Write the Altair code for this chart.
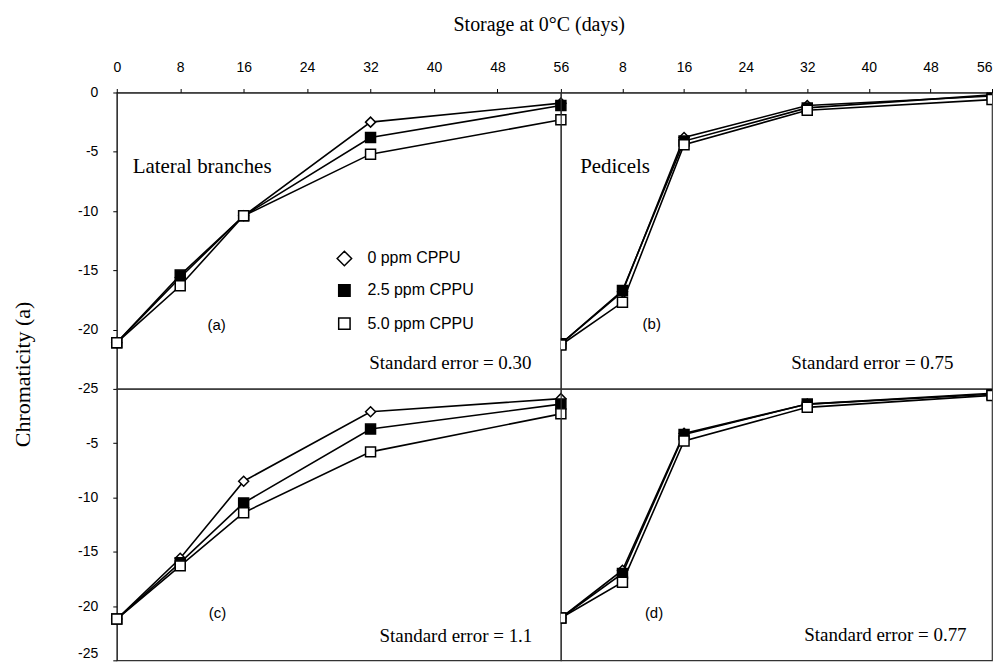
import altair as alt
import pandas as pd

# ---------------- data ----------------
days = [0, 8, 16, 32, 56]
treatments = ["0 ppm CPPU", "2.5 ppm CPPU", "5.0 ppm CPPU"]

# (a) Lateral branches, first series
lat_a_0ppm = [-21.1, -15.6, -10.4, -2.5, -0.9]
lat_a_25ppm = [-21.1, -15.4, -10.4, -3.8, -1.1]
lat_a_50ppm = [-21.1, -16.3, -10.4, -5.2, -2.3]

# (b) Pedicels, first series
ped_b_0ppm = [-21.2, -16.8, -3.8, -1.1, -0.3]
ped_b_25ppm = [-21.2, -16.7, -4.1, -1.3, -0.2]
ped_b_50ppm = [-21.3, -17.7, -4.4, -1.5, -0.6]

# (c) Lateral branches, second series
lat_c_0ppm = [-21.2, -15.6, -8.5, -2.1, -0.9]
lat_c_25ppm = [-21.2, -16.0, -10.5, -3.7, -1.4]
lat_c_50ppm = [-21.2, -16.3, -11.4, -5.8, -2.3]

# (d) Pedicels, second series
ped_d_0ppm = [-21.1, -16.7, -4.1, -1.4, -0.4]
ped_d_25ppm = [-21.1, -17.0, -4.2, -1.4, -0.5]
ped_d_50ppm = [-21.1, -17.8, -4.8, -1.7, -0.6]

x_ticks_left = [0, 8, 16, 24, 32, 40, 48, 56]
x_ticks_right = [8, 16, 24, 32, 40, 48, 56]
y_ticks_top = [0, -5, -10, -15, -20, -25]
y_ticks_bottom = [-5, -10, -15, -20, -25]


def make_df(series):
    rows = []
    for t, vals in zip(treatments, series):
        for d, v in zip(days, vals):
            rows.append({"day": d, "value": v, "treatment": t})
    return pd.DataFrame(rows)


df_a = make_df([lat_a_0ppm, lat_a_25ppm, lat_a_50ppm])
df_b = make_df([ped_b_0ppm, ped_b_25ppm, ped_b_50ppm])
df_c = make_df([lat_c_0ppm, lat_c_25ppm, lat_c_50ppm])
df_d = make_df([ped_d_0ppm, ped_d_25ppm, ped_d_50ppm])

SERIF = "Liberation Serif"
SANS = "Liberation Sans"

LEFT_W, RIGHT_W = 445, 432
TOP_H, BOT_H = 297, 272

one_row = alt.Data(values=[{}])


def x_axis_top(values, flush=False):
    return alt.Axis(orient="top", values=values, title=None, grid=False,
                    tickSize=4, labelPadding=14, labelFont=SANS, labelFontSize=14,
                    labelColor="black", tickColor="black", domainColor="#222",
                    labelFlush=flush, labelExpr="'' + datum.value")


def y_axis_left(values, with_title, flush):
    kw = dict(values=values, grid=False, tickSize=4, labelPadding=15,
              labelFont=SANS, labelFontSize=14, labelColor="black",
              tickColor="black", domainColor="#222",
              labelExpr="'' + datum.value", labelFlush=flush)
    if with_title:
        kw.update(title="Chromaticity (a)", titleFont=SERIF, titleFontSize=22,
                  titleFontWeight="normal", titleColor="black", titleAngle=270,
                  titleX=-94, titleY=282, titleAlign="center",
                  titleBaseline="middle")
    else:
        kw.update(title=None)
    return alt.Axis(**kw)


def text_at(txt, x, y, font, size, align="left"):
    return alt.Chart(one_row).mark_text(
        text=txt, font=font, fontSize=size, align=align, baseline="middle",
        color="black").encode(x=alt.datum(x), y=alt.datum(y))


def panel(df, w, h, x_axis, y_axis, extras, clip=False):
    x = alt.X("day:Q", scale=alt.Scale(domain=[0, 56], nice=False, zero=False),
              axis=x_axis)
    y = alt.Y("value:Q", scale=alt.Scale(domain=[-25, 0], nice=False, zero=False),
              axis=y_axis)
    base = alt.Chart(df)
    lines = base.mark_line(color="black", strokeWidth=1.6, clip=clip).encode(
        x=x, y=y, detail="treatment:N")
    pts = base.mark_point(filled=True, stroke="black", strokeWidth=1.5,
                          opacity=1, size=100, clip=clip).encode(
        x=x, y=y,
        shape=alt.Shape("treatment:N",
                        scale=alt.Scale(domain=treatments,
                                        range=["diamond", "square", "square"]),
                        legend=None),
        fill=alt.Fill("treatment:N",
                      scale=alt.Scale(domain=treatments,
                                      range=["white", "black", "white"]),
                      legend=None),
    )
    return alt.layer(lines, pts, *extras).properties(width=w, height=h)


# legend drawn inside panel (a)
legend_layers = []
leg_shapes = ["diamond", "square", "square"]
leg_fills = ["white", "black", "white"]
leg_sizes = [210, 130, 130]
leg_y = [-14.0, -16.7, -19.5]
for t, s, f, sz, ly in zip(treatments, leg_shapes, leg_fills, leg_sizes, leg_y):
    legend_layers.append(
        alt.Chart(one_row).mark_point(shape=s, filled=True, fill=f, stroke="black",
                                      strokeWidth=1.5, size=sz, opacity=1)
        .encode(x=alt.datum(28.7), y=alt.datum(ly)))
    legend_layers.append(text_at(t, 31.6, ly, SANS, 16))

extras_a = [
    text_at("Lateral branches", 2.0, -6.3, SERIF, 21),
    text_at("(a)", 12.6, -19.6, SANS, 15, "center"),
    text_at("Standard error = 0.30", 52.3, -22.8, SERIF, 19, "right"),
] + legend_layers
extras_b = [
    text_at("Pedicels", 2.5, -6.3, SERIF, 21),
    text_at("(b)", 11.8, -19.5, SANS, 15, "center"),
    text_at("Standard error = 0.75", 51.0, -22.8, SERIF, 19, "right"),
]
extras_c = [
    text_at("(c)", 12.7, -20.6, SANS, 15, "center"),
    text_at("Standard error = 1.1", 52.4, -22.8, SERIF, 19, "right"),
]
extras_d = [
    text_at("(d)", 12.1, -20.6, SANS, 15, "center"),
    text_at("Standard error = 0.77", 52.7, -22.7, SERIF, 19, "right"),
]

p_a = panel(df_a, LEFT_W, TOP_H, x_axis_top(x_ticks_left),
            y_axis_left(y_ticks_top, True, False), extras_a)
p_b = panel(df_b, RIGHT_W, TOP_H, x_axis_top(x_ticks_right, flush=True),
            None, extras_b, clip=True)
p_c = panel(df_c, LEFT_W, BOT_H, None,
            y_axis_left(y_ticks_bottom, False, True), extras_c)
p_d = panel(df_d, RIGHT_W, BOT_H, None, None, extras_d, clip=True)

chart = alt.concat(p_a, p_b, p_c, p_d, columns=2, spacing=0, bounds="flush",
                   align="each").properties(
    title=alt.TitleParams("Storage at 0°C (days)", font=SERIF, fontSize=20,
                          fontWeight="normal", color="black", anchor="middle",
                          offset=25, dx=37),
    padding={"left": 3, "top": 6, "right": 0, "bottom": 0},
    background="white",
).configure_view(stroke="#333", strokeWidth=1.2)

chart.save("out.html", embed_options={"renderer": "svg", "actions": False})
